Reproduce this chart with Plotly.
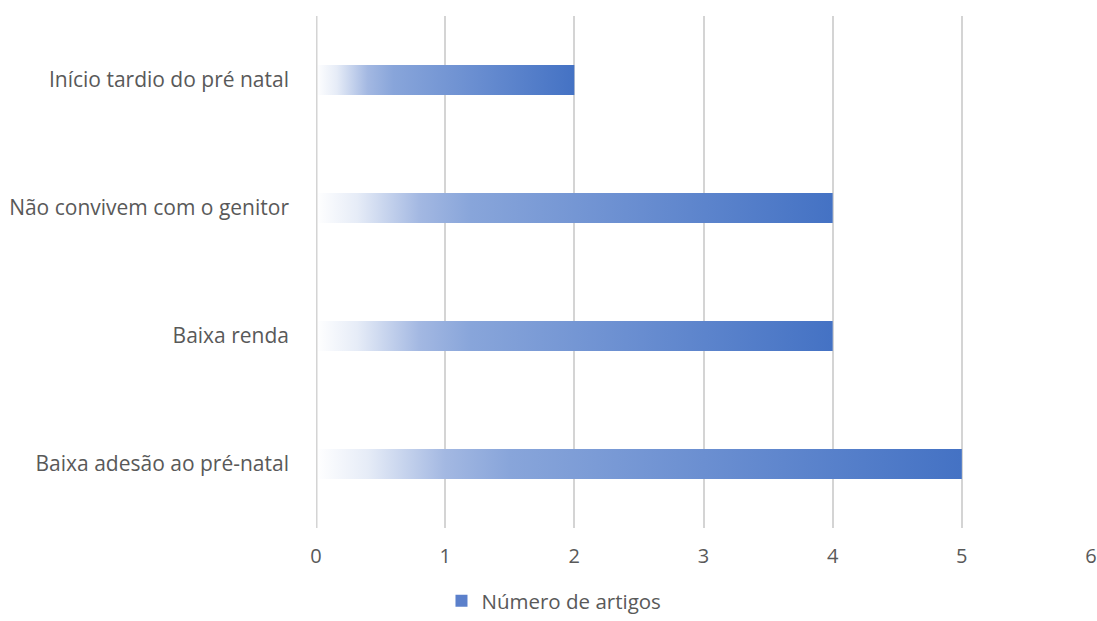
import plotly.graph_objects as go

# Categories listed from the bottom of the chart to the top
categories = [
    "Baixa adesão ao pré-natal",
    "Baixa renda",
    "Não convivem com o genitor",
    "Início tardio do pré natal",
]
values = [5, 4, 4, 2]
x_ticks = [0, 1, 2, 3, 4, 5, 6]
series_name = "Número de artigos"

BAR_HALF = 0.118  # half of the bar thickness, in category units
GRADIENT = [
    [0.0, "#ffffff"],
    [0.08, "#e6ecf7"],
    [0.2, "#a3b8e2"],
    [0.3, "#88a5da"],
    [0.6, "#6b8fd1"],
    [1.0, "#4472c4"],
]

fig = go.Figure()
for i, (cat, v) in enumerate(zip(categories, values)):
    fig.add_trace(go.Scatter(
        x=[0, v, v, 0, 0],
        y=[i - BAR_HALF, i - BAR_HALF, i + BAR_HALF, i + BAR_HALF, i - BAR_HALF],
        mode="lines",
        fill="toself",
        fillgradient=dict(type="horizontal", colorscale=GRADIENT),
        line=dict(width=0, color="#4472c4"),
        name=series_name,
        legendgroup="artigos",
        showlegend=False,
        hoverinfo="skip",
    ))

# Legend key: a square swatch for the series
fig.add_trace(go.Bar(
    x=[None], y=[None], orientation="h",
    marker=dict(color="#5b80cb", line=dict(width=0)),
    name=series_name,
    legendgroup="artigos",
    showlegend=True,
))

font_family = "'Open Sans', sans-serif"
fig.update_layout(
    width=1097,
    height=621,
    margin=dict(l=316, r=6, t=16, b=93),
    paper_bgcolor="white",
    plot_bgcolor="white",
    font=dict(family=font_family, size=21, color="#595959"),
    showlegend=True,
    legend=dict(
        orientation="h",
        xref="container", yref="container",
        x=0.505, xanchor="center",
        y=0.0, yanchor="bottom",
        tracegroupgap=0,
        borderwidth=0,
        font=dict(size=20.5, color="#595959"),
        itemwidth=30,
        bgcolor="rgba(0,0,0,0)",
    ),
    xaxis=dict(
        range=[0, 6],
        tickvals=x_ticks,
        tickfont=dict(size=20),
        showgrid=True,
        gridcolor="#d4d4d4",
        gridwidth=1.5,
        zeroline=False,
        showline=False,
        ticks="",
        ticklabelstandoff=14,
        automargin=False,
        fixedrange=True,
    ),
    yaxis=dict(
        range=[-0.5, 3.5],
        tickvals=list(range(len(categories))),
        ticktext=categories,
        tickfont=dict(size=21),
        showgrid=False,
        zeroline=False,
        showline=False,
        ticks="",
        ticklabelstandoff=26,
        automargin=False,
        fixedrange=True,
    ),
    shapes=[dict(
        type="line", xref="x", yref="paper",
        x0=0, x1=0, y0=0, y1=1,
        line=dict(color="#d4d4d4", width=3),
        layer="above",
    )],
)

fig.write_html("out.html")
